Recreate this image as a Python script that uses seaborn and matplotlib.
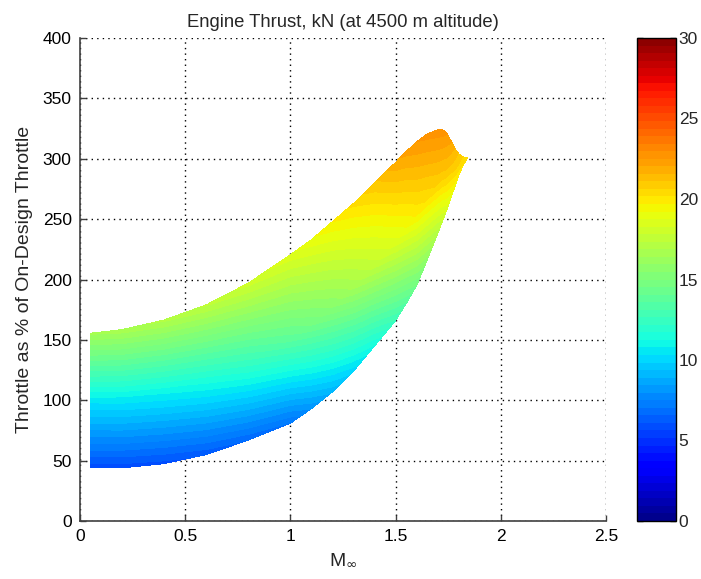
import numpy as np
import matplotlib
matplotlib.use("Agg")
import matplotlib.pyplot as plt
from matplotlib.colors import ListedColormap
import seaborn as sns

# ---- data ----
mach = [0.05, 0.2, 0.4, 0.6, 0.8, 1.0, 1.1, 1.2, 1.3, 1.4, 1.5,
        1.55, 1.6, 1.65, 1.7, 1.72, 1.74, 1.76, 1.78, 1.8, 1.82, 1.84]
throttle_low = [44, 44, 47.5, 55, 67, 81, 93, 107, 124, 145, 166,
                180, 195, 216, 238, 247, 256, 266, 276, 286, 294, 300.5]
throttle_mid = [100, 101, 107, 117, 132, 151, 163, 177.5, 193.5, 212.5, 231.5,
                243, 254.5, 268, 281, 285.5, 289, 291, 292.5, 295, 297.8, 300.6]
throttle_high = [155.5, 158.5, 166.5, 179, 197, 220.5, 233, 248, 263, 280, 297,
                 306, 314, 320.5, 324, 324.5, 322, 316, 309, 304, 301.5, 300.8]
thrust_low = [5.8, 5.8, 5.9, 6.2, 6.6, 7.0, 8.0, 9.0, 10.0, 11.2, 12.6,
              13.5, 14.5, 15.7, 17.0, 17.6, 18.3, 18.8, 19.3, 19.7, 20.0, 20.2]
thrust_mid = [10.5, 10.6, 10.9, 11.5, 12.5, 13.8, 14.6, 15.5, 16.5, 17.6, 18.6,
              19.2, 19.8, 20.3, 20.8, 20.9, 21.0, 20.9, 20.8, 20.6, 20.4, 20.25]
thrust_high = [16.5, 16.7, 17.0, 17.4, 18.0, 18.6, 19.1, 19.7, 20.3, 21.0, 21.9,
               22.2, 22.5, 22.7, 22.8, 22.8, 22.6, 22.2, 21.6, 21.0, 20.6, 20.3]

x_ticks = [0, 0.5, 1, 1.5, 2, 2.5]
x_tick_labels = ["0", "0.5", "1", "1.5", "2", "2.5"]
y_ticks = [0, 50, 100, 150, 200, 250, 300, 350, 400]
cbar_ticks = [0, 5, 10, 15, 20, 25, 30]

# ---- style ----
sns.set_style("white")
plt.rcParams["font.family"] = ["Liberation Sans", "DejaVu Sans"]
FS = 12.5

fig = plt.figure(figsize=(7.01, 5.79), dpi=100)
W, H = 701, 579
ax = fig.add_axes([80 / W, (H - 521) / H, 526 / W, 483 / H])
cax = fig.add_axes([637 / W, (H - 521) / H, 39 / W, 483 / H])

X = np.array([mach, mach, mach])
Y = np.array([throttle_low, throttle_mid, throttle_high])
Z = np.array([thrust_low, thrust_mid, thrust_high])

cmap = ListedColormap(sns.mpl_palette("jet", 64))
levels = np.linspace(0, 30, 65)
cs = ax.contourf(X, Y, Z, levels=levels, cmap=cmap, vmin=0, vmax=30, zorder=2)

ax.set_xlim(0, 2.5)
ax.set_ylim(0, 400)
ax.set_xticks(x_ticks)
ax.set_xticklabels(x_tick_labels)
ax.set_yticks(y_ticks)
ax.grid(True, color="black", linestyle=(0, (1, 3)), linewidth=1.0, zorder=1)
ax.set_axisbelow(True)
for s in ["top", "right"]:
    ax.spines[s].set_visible(False)
for s in ["left", "bottom"]:
    ax.spines[s].set_color("#404040")
    ax.spines[s].set_linewidth(1.2)
ax.tick_params(direction="in", length=4, width=1, color="#404040",
               labelsize=FS, labelcolor="black", left=True, bottom=True, pad=6)
ax.set_xlabel(r"M$_{\infty}$", fontsize=14, labelpad=5)
ax.set_ylabel("Throttle as % of On-Design Throttle", fontsize=14, labelpad=7)
ax.set_title("Engine Thrust, kN (at 4500 m altitude)", fontsize=13.3, pad=8)

cb = fig.colorbar(cs, cax=cax, ticks=cbar_ticks)
cb.outline.set_edgecolor("black")
cb.outline.set_linewidth(1.0)
cax.tick_params(direction="in", length=4, width=1, left=True, right=True,
                labelsize=FS, pad=2)

fig.savefig("out.png", dpi=100)
